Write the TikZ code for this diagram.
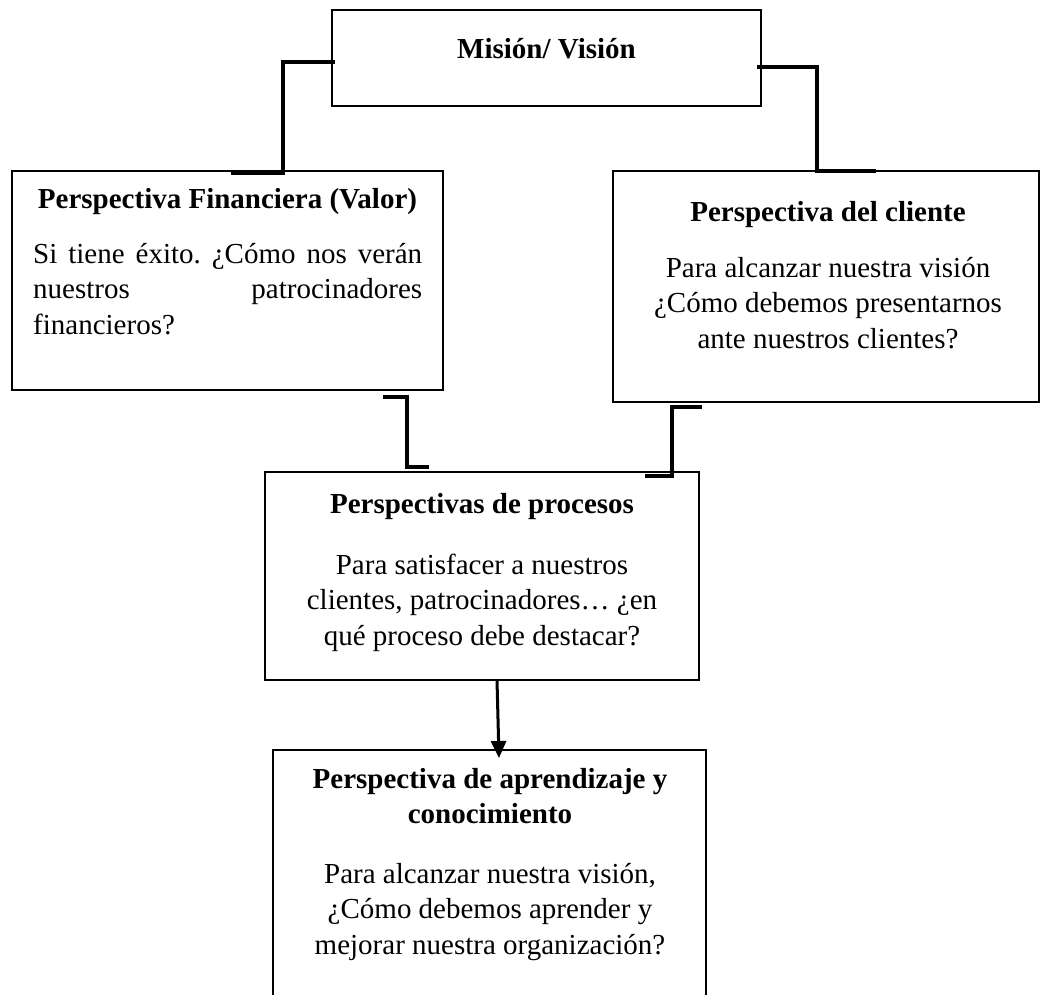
\documentclass[tikz,border=0pt]{standalone}
\usepackage{fontspec}
\setmainfont{Liberation Serif}
\usetikzlibrary{arrows.meta}
\frenchspacing
\begin{document}
\begin{tikzpicture}[x=1pt,y=-1pt,
  box/.style={draw=black, line width=2.2pt, rectangle, inner sep=0pt, outer sep=0pt, anchor=north west},
  conn/.style={draw=black, line width=4.2pt, line join=miter, line cap=butt},
  arr/.style={draw=black, line width=3pt, -{Triangle[length=17pt,width=15pt]}},
  txt/.style={anchor=base, inner sep=0pt, font=\fontsize{29pt}{35.5pt}\selectfont},
]
\useasboundingbox (0,0) rectangle (1041,994);
\clip (0,0) rectangle (1041,994);

% boxes
\node[box, minimum width=429pt, minimum height=96pt]  (mision)   at (332,10)  {};
\node[box, minimum width=431pt, minimum height=219pt] (fin)      at (12,171)  {};
\node[box, minimum width=426pt, minimum height=231pt] (cliente)  at (613,171) {};
\node[box, minimum width=434pt, minimum height=208pt] (procesos) at (265,472) {};
\node[box, minimum width=433pt, minimum height=270pt] (aprend)   at (273,750) {};

% texts
\node[txt] (mision-t) at (546.5,58) {\bfseries Misión/ Visión};

\node[txt] (fin-t) at (227.5,208) {\bfseries Perspectiva Financiera (Valor)};
\node[txt, anchor=base west] (fin-b) at (33,263) {\parbox[t]{389pt}{%
  \makebox[389pt][s]{Si tiene éxito. ¿Cómo nos verán}\\
  \makebox[389pt][s]{nuestros\hfill patrocinadores}\\
  financieros?}};

\node[txt] (cli-t) at (828,221) {\bfseries Perspectiva del cliente};
\node[txt] (cli-b) at (828,277) {\parbox[t]{420pt}{\centering
  Para alcanzar nuestra visión\\
  ¿Cómo debemos presentarnos\\
  ante nuestros clientes?}};

\node[txt] (pro-t) at (482,513) {\bfseries Perspectivas de procesos};
\node[txt] (pro-b) at (482,574) {\parbox[t]{430pt}{\centering
  Para satisfacer a nuestros\\
  clientes, patrocinadores… ¿en\\
  qué proceso debe destacar?}};

\node[txt] (apr-t) at (490,788) {\parbox[t]{430pt}{\centering\bfseries
  Perspectiva de aprendizaje y\\
  conocimiento}};
\node[txt] (apr-b) at (490,883) {\parbox[t]{430pt}{\centering
  Para alcanzar nuestra visión,\\
  ¿Cómo debemos aprender y\\
  mejorar nuestra organización?}};

% connector points
\coordinate (a1) at (335,62);  \coordinate (a2) at (283,62);
\coordinate (a3) at (283,173); \coordinate (a4) at (231,173);
\coordinate (b1) at (757,67);  \coordinate (b2) at (817,67);
\coordinate (b3) at (817,171); \coordinate (b4) at (876,171);
\coordinate (c1) at (383,397); \coordinate (c2) at (407,397);
\coordinate (c3) at (407,467); \coordinate (c4) at (429,467);
\coordinate (d1) at (702,407); \coordinate (d2) at (672,407);
\coordinate (d3) at (672,476); \coordinate (d4) at (645,476);
\coordinate (e1) at (497,680); \coordinate (e2) at (499,758);

\draw[conn] (a1) -- (a2) -- (a3) -- (a4);
\draw[conn] (b1) -- (b2) -- (b3) -- (b4);
\draw[conn] (c1) -- (c2) -- (c3) -- (c4);
\draw[conn] (d1) -- (d2) -- (d3) -- (d4);
\draw[arr] (e1) -- (e2);
\end{tikzpicture}
\end{document}
